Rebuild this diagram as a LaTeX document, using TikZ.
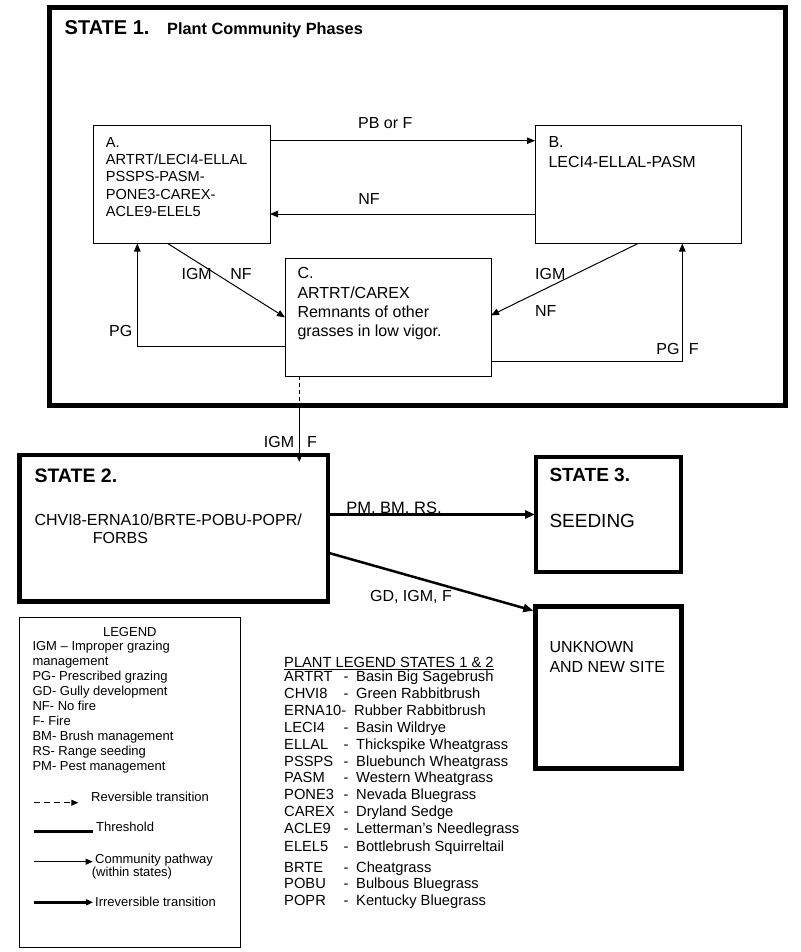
\documentclass[tikz,border=0pt]{standalone}
\usepackage{fontspec}
\setmainfont{Liberation Sans}
\usetikzlibrary{arrows.meta,positioning}
\tikzset{
  phase/.style={draw,rectangle,line width=1pt,anchor=north west,inner sep=0pt,outer sep=0pt},
  statebox/.style={phase,line width=#1},
  boxtext/.style={anchor=north west,align=left,inner sep=0pt},
  lbl/.style={inner sep=0pt,font=\fontsize{16}{18}\selectfont},
  legtext/.style={inner sep=0pt,font=\fontsize{13}{15}\selectfont},
  plant/.style={anchor=base west,inner sep=0pt,font=\fontsize{14.7}{17}\selectfont},
  pathway/.style={-{Triangle[length=8pt,width=6.5pt]},line width=1pt},
  irrev/.style={-{Triangle[length=10pt,width=8pt]},line width=2.5pt},
  revline/.style={dash pattern=on 4pt off 3pt,line width=1pt}
}
\begin{document}
\begin{tikzpicture}[x=1pt,y=-1pt]
  \useasboundingbox (0,0) rectangle (800,952);
  % state 1 and its phases
  \node[statebox=5pt,minimum width=736pt,minimum height=397pt] (S1) at (49,8) {};
  \node[anchor=base west,inner sep=0pt,font=\bfseries\fontsize{20}{24}\selectfont] (S1title) at (64.5,35) {STATE 1.};
  \node[anchor=base west,inner sep=0pt,font=\bfseries\fontsize{16.3}{20}\selectfont] (S1sub) at (167,35) {Plant Community Phases};

  \node[phase,minimum width=177pt,minimum height=118pt] (A) at (93,125.5) {};
  \node[boxtext,font=\fontsize{14.6}{17.3}\selectfont] (Atext) at ([shift={(12.7pt,-11.5pt)}]A.north west)
    {A.\\ARTRT/LECI4-ELLAL\\PSSPS-PASM-\\PONE3-CAREX-\\ACLE9-ELEL5};
  \node[phase,minimum width=206pt,minimum height=118pt] (B) at (535,125.5) {};
  \node[boxtext,font=\fontsize{16}{20}\selectfont] (Btext) at ([shift={(13.3pt,-11pt)}]B.north west)
    {B.\\LECI4-ELLAL-PASM};
  \node[phase,minimum width=206pt,minimum height=117.3pt] (C) at (285,258.7) {};
  \node[boxtext,font=\fontsize{16}{19.3}\selectfont] (Ctext) at ([shift={(12.3pt,-8.9pt)}]C.north west)
    {C.\\ARTRT/CAREX\\Remnants of other\\grasses in low vigor.};

  \draw[pathway] ([yshift=43.8pt]A.east) -- ([yshift=43.8pt]B.west);
  \draw[pathway] ([yshift=-29.5pt]B.west) -- ([yshift=-29.5pt]A.east);
  \draw[pathway] ([xshift=-13.8pt]A.south) -- (C.west);
  \draw[pathway] (B.south) -- ([yshift=2pt]C.east);
  \draw[pathway] ([yshift=-29.3pt]C.west) -| ([xshift=-44.2pt]A.south);
  \draw[pathway] ([yshift=-43.7pt]C.east) -| ([xshift=44.3pt]B.south);

  \node[lbl] (pbf) at (385.3,123.3) {PB or F};
  \node[lbl] (nf1) at (369,199.3) {NF};
  \node[lbl] (igm1) at (196.7,274.3) {IGM};
  \node[lbl] (nf2) at (241,274.3) {NF};
  \node[lbl] (igm2) at (550.3,274.3) {IGM};
  \node[lbl] (nf3) at (545.7,311) {NF};
  \node[lbl] (pg1) at (120.7,330.7) {PG};
  \node[lbl] (pg2) at (668,349) {PG};
  \node[lbl] (f1) at (693.7,349) {F};

  % states 2, 3 and unknown
  \node[statebox=4.5pt,minimum width=308.3pt,minimum height=146.5pt] (S2) at (19.7,455) {};
  \node[anchor=north west,inner sep=0pt,font=\bfseries\fontsize{19.5}{23}\selectfont] (S2title) at (34.3,469) {STATE 2.};
  \node[boxtext,font=\fontsize{16}{18.3}\selectfont] (S2text) at (34.3,513.3)
    {CHVI8-ERNA10/BRTE-POBU-POPR/\\\hspace*{58.4pt}FORBS};
  \node[statebox=4pt,minimum width=144.5pt,minimum height=115pt] (S3) at (536,457) {};
  \node[anchor=north west,inner sep=0pt,font=\bfseries\fontsize{19}{23}\selectfont] (S3title) at (549.3,468.2) {STATE 3.};
  \node[anchor=north west,inner sep=0pt,font=\fontsize{19}{23}\selectfont] (S3text) at (549.3,513.9) {SEEDING};
  \node[statebox=5pt,minimum width=146.5pt,minimum height=161.6pt] (U) at (535,606.7) {};
  \node[boxtext,font=\fontsize{16}{19.4}\selectfont] (Utext) at (549.3,641.6) {UNKNOWN\\AND NEW SITE};

  % threshold crossing to state 2
  \draw[revline] ([xshift=-88.7pt]C.south) -- ([xshift=-88.7pt]C.south |- S1.south) coordinate (cut);
  \draw[pathway,line width=1.5pt] (cut) -- ([yshift=-7pt]cut |- S2.north);
  \node[lbl] (igm3) at (279,442.3) {IGM};
  \node[lbl] (f2) at (312,442.3) {F};

  \draw[irrev,shorten >=1pt] (S2.east |- S3.west) -- (S3.west);
  \draw[irrev] ([yshift=-24.45pt]S2.east) -- ([shift={(-1.7pt,-4pt)}]U.north west);
  \node[lbl,font=\fontsize{16.5}{18}\selectfont] (pm) at (394,509) {PM, BM, RS,};
  \node[lbl] (gd) at (411,596.7) {GD, IGM, F};

  % legend
  \node[phase,minimum width=221.7pt,minimum height=330pt] (L) at (19,617.3) {};
  \node[legtext] (Ltitle) at (129.8,631.7) {LEGEND};
  \node[legtext,anchor=north west,align=left] (Ltext) at (32.3,641.3)
    {IGM – Improper grazing\\management\\PG- Prescribed grazing\\GD- Gully development\\NF- No fire\\F- Fire\\BM- Brush management\\RS- Range seeding\\PM- Pest management};
  \coordinate (rv1) at (34.3,802.7);
  \coordinate (rv2) at (78.3,802.7);
  \draw[line width=1pt,dash pattern=on 6pt off 4pt,-{Triangle[length=7pt,width=6pt]}] (rv1) -- (rv2);
  \node[legtext,anchor=west] (rvtext) at (91,797.3) {Reversible transition};
  \coordinate (th1) at (34.3,831.7);
  \coordinate (th2) at (93.3,831.7);
  \draw[line width=3.3pt] (th1) -- (th2);
  \node[legtext,anchor=west] (thtext) at (96,827) {Threshold};
  \coordinate (cp1) at (34.3,861.7);
  \coordinate (cp2) at (92.7,861.7);
  \draw[line width=1pt,-{Triangle[length=7pt,width=6pt]}] (cp1) -- (cp2);
  \node[legtext,anchor=north west,align=left,font=\fontsize{13}{13.4}\selectfont] (cptext) at (91.7,853.6)
    {\hspace*{3.3pt}Community pathway\\(within states)};
  \coordinate (ir1) at (34.3,902.3);
  \coordinate (ir2) at (93,902.3);
  \draw[line width=2.5pt,-{Triangle[length=7pt,width=6pt]}] (ir1) -- (ir2);
  \node[legtext,anchor=west] (irtext) at (95,902) {Irreversible transition};

  % plant legend
  \node[plant] (Ptitle) at (284,667.3) {\underline{PLANT LEGEND STATES 1 \& 2}};
  \foreach \y/\code/\dash/\name in {676/ARTRT/-/Basin Big Sagebrush, 692.7/CHVI8/-/Green Rabbitbrush,
      727.3/LECI4/-/Basin Wildrye, 744/ELLAL/-/Thickspike Wheatgrass, 760.7/PSSPS/-/Bluebunch Wheatgrass,
      777.3/PASM/-/Western Wheatgrass, 794.3/PONE3/-/Nevada Bluegrass, 811.3/CAREX/-/Dryland Sedge,
      828.3/ACLE9/-/Letterman’s Needlegrass, 845.7/ELEL5/-/Bottlebrush Squirreltail,
      866.7/BRTE/-/Cheatgrass, 883.3/POBU/-/Bulbous Bluegrass, 900/POPR/-/Kentucky Bluegrass}
  {
    \node[plant] at (284,{\y+5.3}) {\code};
    \node[plant] at (343.5,{\y+5.3}) {\dash};
    \node[plant] at (356,{\y+5.3}) {\name};
  }
  \node[plant] (erna) at (284,715.3) {ERNA10-};
  \node[plant] (ernaname) at (354,715.3) {Rubber Rabbitbrush};
\end{tikzpicture}
\end{document}
